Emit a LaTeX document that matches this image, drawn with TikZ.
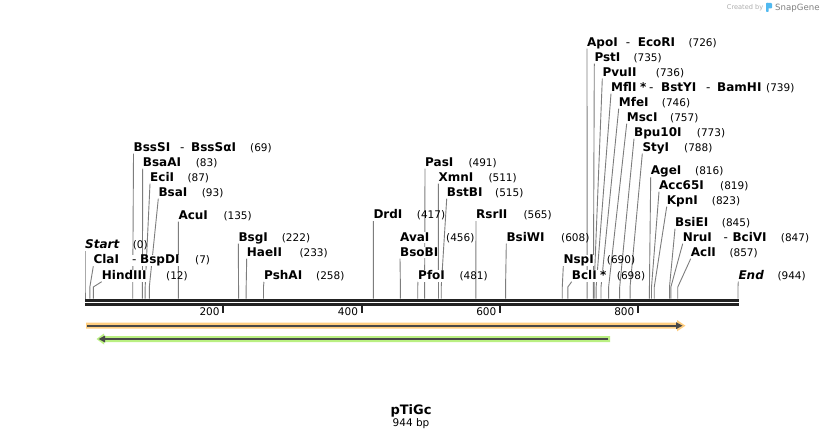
\documentclass[tikz,border=0pt]{standalone}
\usepackage{fontspec}
\setmainfont{DejaVu Sans}
\definecolor{cutgray}{RGB}{125,125,125}
\definecolor{bbone}{RGB}{34,34,34}
\definecolor{orangeband}{RGB}{255,206,128}
\definecolor{greenband}{RGB}{186,240,130}
\definecolor{featline}{RGB}{72,72,72}
\definecolor{snapblue}{RGB}{80,185,240}
\pgfdeclarelayer{bg}
\pgfsetlayers{bg,main}
\tikzset{
  nm/.style={anchor=base west, inner sep=0pt, fill=white, text height=9pt, text depth=2pt, font=\fontsize{12}{14}\selectfont\bfseries},
  num/.style={anchor=base west, inner sep=0pt, font=\fontsize{10.5}{12}\selectfont},
  cut/.style={draw=cutgray, line width=0.9pt},
  tick/.style={draw=bbone, line width=2pt},
  backbone/.style={draw=bbone, line width=2.6pt},
}
% #1 id, #2 name, #3 label x, #4 baseline y, #5 number, #6 number x, #7 bp position
\newcommand\rsite[7]{%
  \node[nm] (#1) at (#3,#4) {#2};
  \node[num] (#1n) at (#6,#4) {(#5)};
  \coordinate (#1k) at ({85+0.6917*#7},287);
  \coordinate (#1s) at ({85+0.6917*#7},298.5);
  \begin{pgfonlayer}{bg}
  \draw[cut] (#1.south west) -- (#1k) -- (#1s);
  \end{pgfonlayer}
}
\newcommand\dsh{\mdseries -}
\begin{document}
\begin{tikzpicture}[x=1pt,y=-1pt]
\begin{pgfonlayer}{bg}
\path[use as bounding box, fill=white] (0,0) rectangle (824,438);
\end{pgfonlayer}

% backbone
\coordinate (bbA1) at (85,300.2);
\coordinate (bbB1) at (738.5,300.2);
\coordinate (bbA2) at (85,304.2);
\coordinate (bbB2) at (738.5,304.2);
\draw[backbone] (bbA1) -- (bbB1);
\draw[backbone] (bbA2) -- (bbB2);

% ticks
\foreach \v/\xx in {200/223.3,400/361.7,600/500,800/638} {
  \coordinate (tk\v a) at (\xx,305);
  \coordinate (tk\v b) at (\xx,313);
  \draw[tick] (tk\v a) -- (tk\v b);
  \node[num, anchor=base east] (tl\v) at (\xx-3.5,315.7) {\v};
}

% sites
\rsite{sStart}{\itshape Start}{85}{249}{0}{132.7}{0}
\rsite{sCla}{\makebox[38.7pt][l]{ClaI}\makebox[8pt][l]{\dsh}BspDI}{93.3}{264}{7}{195}{7}
\rsite{sHind}{HindIII}{101.7}{279.5}{12}{166}{12}
\rsite{sBsss}{\makebox[46.5pt][l]{BssSI}\makebox[11pt][l]{\dsh}BssSαI}{133.5}{151.5}{69}{250}{69}
\rsite{sBsaa}{BsaAI}{142.7}{166.5}{83}{195.7}{83}
\rsite{sEci}{EciI}{150}{181.5}{87}{187.3}{87}
\rsite{sBsa}{BsaI}{158.3}{196.5}{93}{201.7}{93}
\rsite{sAcu}{AcuI}{178.3}{219.5}{135}{223.3}{135}
\rsite{sBsg}{BsgI}{238.3}{241.5}{222}{281.7}{222}
\rsite{sHae}{HaeII}{246.7}{256.5}{233}{299.3}{233}
\rsite{sPsh}{PshAI}{264}{279.5}{258}{316}{258}
\rsite{sDrd}{DrdI}{373.3}{219}{417}{416.7}{417}
\node[nm] (sAva) at (400,241.5) {AvaI};
\node[num] (sAvan) at (446,241.5) {(456)};
\node[nm] (sBsob) at (400,256.5) {BsoBI};
\coordinate (sBsobk) at ({85+0.6917*456},287);
\coordinate (sBsobs) at ({85+0.6917*456},298.5);
\begin{pgfonlayer}{bg}
\draw[cut] (sBsob.south west) -- (sBsobk) -- (sBsobs);
\end{pgfonlayer}
\rsite{sPfo}{PfoI}{418}{279.5}{481}{459.3}{481}
\rsite{sPas}{PasI}{425}{166.5}{491}{468.3}{491}
\rsite{sXmn}{XmnI}{438.3}{181.5}{511}{488.3}{511}
\rsite{sBstb}{BstBI}{446.7}{196.5}{515}{495}{515}
\rsite{sRsr}{RsrII}{476}{219}{565}{523.3}{565}
\rsite{sBsiw}{BsiWI}{506.3}{241.5}{608}{561}{608}
\rsite{sNsp}{NspI}{563.3}{264}{690}{606.7}{690}
\rsite{sBcl}{\makebox[28.3pt][l]{BclI}*}{571.7}{279.5}{698}{616.7}{698}
\rsite{sApo}{\makebox[38.7pt][l]{ApoI}\makebox[12pt][l]{\dsh}EcoRI}{587}{46.5}{726}{688.3}{726}
\rsite{sPst}{PstI}{594.3}{61.5}{735}{633.3}{735}
\rsite{sPvu}{PvuII}{602.3}{76.5}{736}{655.7}{736}
\rsite{sMfl}{\makebox[29pt][l]{MflI}\makebox[9pt][l]{*}\makebox[12pt][l]{\dsh}\makebox[45pt][l]{BstYI}\makebox[11pt][l]{\dsh}BamHI}{611}{91.5}{739}{766}{739}
\rsite{sMfe}{MfeI}{618.7}{106.5}{746}{661.7}{746}
\rsite{sMsc}{MscI}{626.7}{121.5}{757}{670}{757}
\rsite{sBpu}{Bpu10I}{634}{136.5}{773}{696.7}{773}
\rsite{sSty}{StyI}{642.3}{151.5}{788}{684}{788}
\rsite{sAge}{AgeI}{650.7}{175}{816}{695}{816}
\rsite{sAcc}{Acc65I}{659}{189.5}{819}{720}{819}
\rsite{sKpn}{KpnI}{666.7}{204.5}{823}{711.7}{823}
\rsite{sBsie}{BsiEI}{675}{226.5}{845}{721.7}{845}
\rsite{sNru}{\makebox[40.6pt][l]{NruI}\makebox[9pt][l]{\dsh}BciVI}{682.7}{241.5}{847}{780.7}{847}
\rsite{sAcl}{AclI}{690.7}{256.5}{857}{729.3}{857}
\rsite{sEnd}{\itshape End}{738.3}{279.5}{944}{777.3}{944}

% features
\fill[orangeband] (86,322.7) -- (677,322.7) -- (677,320) -- (685.5,325.7) -- (677,331.4) -- (677,328.7) -- (86,328.7) -- cycle;
\coordinate (fo1) at (87.3,325.7);
\coordinate (fo2) at (678,325.7);
\draw[featline, line width=1.8pt] (fo1) -- (fo2);
\fill[featline] (676,322.2) -- (682.5,325.7) -- (676,329.2) -- cycle;

\fill[greenband] (610,336) -- (104,336) -- (104,333.5) -- (96.5,339) -- (104,344.5) -- (104,342) -- (610,342) -- cycle;
\coordinate (fg1) at (608.3,339);
\coordinate (fg2) at (103,339);
\draw[featline, line width=1.8pt] (fg1) -- (fg2);
\fill[featline] (105,335.5) -- (98.7,339) -- (105,342.5) -- cycle;

% title
\node[anchor=base, inner sep=0pt, font=\fontsize{13}{15}\selectfont\bfseries] (title) at (411,414) {pTiGc};
\node[anchor=base, inner sep=0pt, font=\fontsize{10.5}{12}\selectfont] (len) at (411,426) {944 bp};

% watermark
\node[anchor=base west, inner sep=0pt, font=\fontsize{6.6}{8}\selectfont, text=black!32] (cb) at (726.7,9.8) {Created by};
\fill[snapblue, rounded corners=0.8pt] (766,3) rectangle (772,8.5);
\fill[snapblue, rounded corners=0.8pt] (766,3) rectangle (768.6,12);
\node[anchor=base west, inner sep=0pt, font=\fontsize{8.6}{10}\selectfont, text=black!50] (sg) at (775,10.6) {SnapGene};
\end{tikzpicture}
\end{document}
